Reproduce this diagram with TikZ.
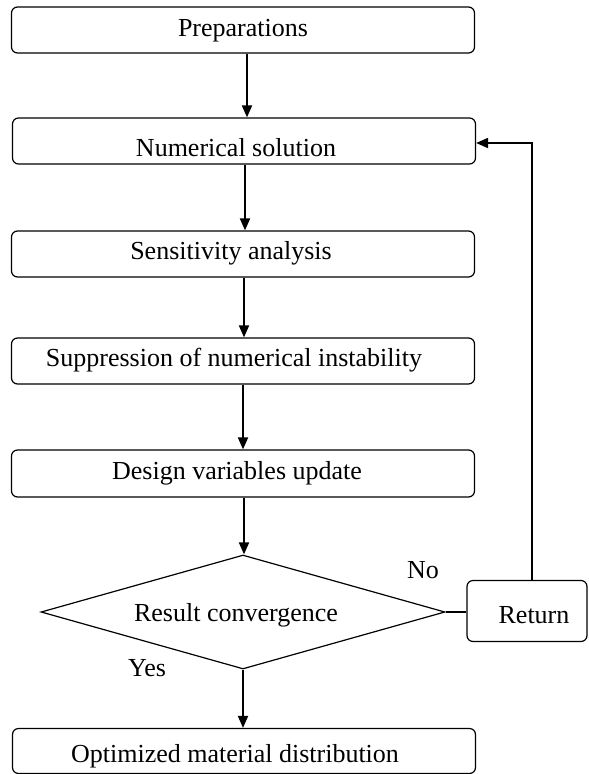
\documentclass[tikz,border=0pt]{standalone}
\usepackage{fontspec}
\setmainfont{Liberation Serif}
\usetikzlibrary{arrows.meta,shapes.geometric}
\begin{document}
\begin{tikzpicture}[x=1pt,y=-1pt,
  box/.style={draw, rounded corners=6pt, line width=1.2pt, minimum width=463pt, inner sep=0pt},
  conn/.style={line width=1.8pt, -{Triangle[length=12pt,width=10pt]}},
  lab/.style={font=\fontsize{26}{30}\selectfont, inner sep=0pt}]
\useasboundingbox (0,0) rectangle (589,774);
\node[box, minimum height=46pt] (prep) at (243,30) {};
\node[box, minimum height=46pt] (num) at (244,141) {};
\node[box, minimum height=46pt] (sens) at (243,254) {};
\node[box, minimum height=46pt] (supp) at (243,361) {};
\node[box, minimum height=47pt] (des) at (243,473.5) {};
\node[draw, diamond, aspect=3.54, line width=1.2pt, minimum width=404pt, minimum height=114pt, inner sep=0pt] (conv) at (243,612) {};
\node[box, minimum width=120pt, minimum height=61pt] (ret) at (527,611) {};
\node[box, minimum height=45pt] (opt) at (244,751) {};
\node[lab] (tprep) at (243,31) {Preparations};
\node[lab] (tnum) at (236,148) {Numerical solution};
\node[lab] (tsens) at (231,253) {Sensitivity analysis};
\node[lab] (tsupp) at (234,360) {Suppression of numerical instability};
\node[lab] (tdes) at (237,473) {Design variables update};
\node[lab] (tconv) at (236,615) {Result convergence};
\node[lab] (tret) at (534,615) {Return};
\node[lab] (topt) at (235,756) {Optimized material distribution};
\node[lab] (no) at (423,570) {No};
\node[lab] (yes) at (147,668) {Yes};
\coordinate (c1) at (532,143);
\draw[conn] (prep.south -| 247,0) -- (num.north -| 247,0);
\draw[conn] (num.south -| 245,0) -- (sens.north -| 245,0);
\draw[conn] (sens.south -| 244,0) -- (supp.north -| 244,0);
\draw[conn] (supp.south -| 243,0) -- (des.north -| 243,0);
\draw[conn] (des.south -| 244,0) -- (conv.north -| 244,0);
\draw[conn] (conv.south) -- (opt.north -| conv.south);
\draw[line width=1.2pt] (conv.east) -- (conv.east -| ret.west);
\draw[conn] (ret.north -| c1) -- (c1) -- (num.east |- c1);
\end{tikzpicture}
\end{document}
